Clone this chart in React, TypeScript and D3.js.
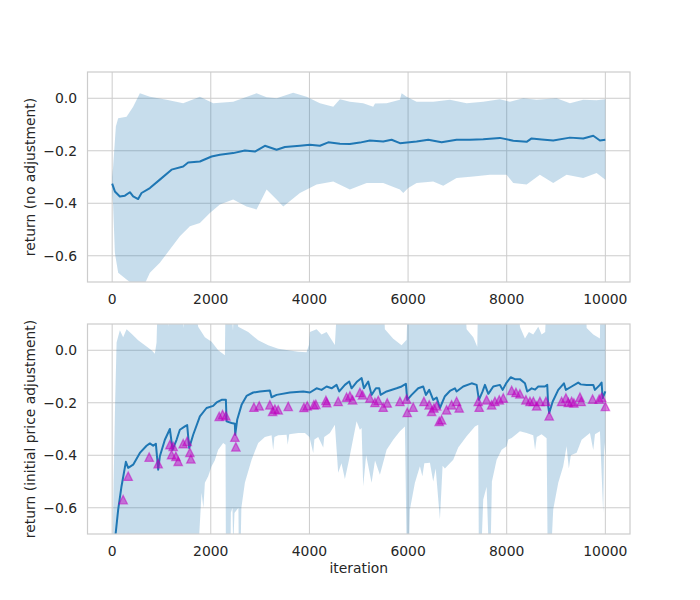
import React from 'react';
import * as d3 from 'd3';

// iteration, value pairs
const xTicks = [0, 2000, 4000, 6000, 8000, 10000];
const yTicks = [-0.6, -0.4, -0.2, 0.0];

const topMean: [number, number][] = [
  [0, -0.325], [55, -0.355], [156, -0.374], [258, -0.371], [359, -0.358], [426, -0.374],
  [527, -0.384], [596, -0.361], [765, -0.342], [967, -0.31], [1204, -0.272], [1440, -0.26],
  [1541, -0.245], [1779, -0.241], [2016, -0.222], [2184, -0.215], [2454, -0.209], [2691, -0.199],
  [2894, -0.203], [3097, -0.181], [3334, -0.196], [3503, -0.186], [3807, -0.181], [4010, -0.177],
  [4213, -0.181], [4381, -0.168], [4618, -0.173], [4820, -0.174], [5023, -0.169], [5226, -0.161],
  [5496, -0.165], [5666, -0.158], [5835, -0.171], [6173, -0.165], [6409, -0.158], [6680, -0.168],
  [6984, -0.158], [7254, -0.158], [7524, -0.156], [7862, -0.151], [8133, -0.162], [8404, -0.166],
  [8505, -0.153], [8708, -0.157], [8943, -0.161], [9282, -0.15], [9552, -0.153], [9755, -0.143],
  [9890, -0.161], [10000, -0.158],
];

const topUpper: [number, number][] = [
  [0, -0.3], [20, -0.26], [75, -0.108], [122, -0.076], [292, -0.07], [426, -0.032], [562, 0.019],
  [765, 0.006], [1103, -0.006], [1440, -0.019], [1779, 0.006], [2049, -0.019], [2454, -0.013],
  [2928, 0.019], [3131, 0.004], [3334, 0.0], [3671, 0.021], [3942, 0.006], [4213, -0.019],
  [4483, -0.032], [4618, -0.004], [4820, -0.013], [5090, -0.019], [5293, -0.032], [5330, -0.02],
  [5565, -0.019], [5835, -0.006], [5869, 0.019], [5970, 0.006], [6173, -0.013], [6510, -0.013],
  [6848, -0.006], [7187, -0.019], [7524, -0.013], [7862, -0.004], [8065, -0.013], [8336, 0.0],
  [8607, -0.006], [9012, 0.0], [9282, -0.019], [9552, -0.006], [9823, -0.008], [10000, -0.004],
];

const topLower: [number, number][] = [
  [0, -0.35], [20, -0.41], [55, -0.589], [122, -0.665], [292, -0.69], [494, -0.72], [629, -0.72],
  [765, -0.665], [967, -0.627], [1170, -0.576], [1373, -0.526], [1576, -0.488], [1779, -0.475],
  [1981, -0.437], [2184, -0.405], [2454, -0.386], [2725, -0.412], [2928, -0.424], [3131, -0.348],
  [3334, -0.386], [3469, -0.412], [3807, -0.361], [4145, -0.329], [4483, -0.317], [4820, -0.348],
  [5159, -0.323], [5496, -0.323], [5835, -0.348], [5902, -0.361], [6003, -0.342], [6173, -0.323],
  [6510, -0.317], [6713, -0.333], [6984, -0.304], [7322, -0.298], [7660, -0.291], [7998, -0.291],
  [8133, -0.323], [8404, -0.329], [8673, -0.291], [8943, -0.323], [9214, -0.291], [9552, -0.304],
  [9823, -0.285], [10000, -0.31],
];

const bottomMean: [number, number][] = [
  [0, -0.95], [40, -0.82], [70, -0.7], [122, -0.607], [190, -0.518], [278, -0.425], [325, -0.448],
  [426, -0.436], [562, -0.391], [697, -0.364], [765, -0.355], [832, -0.364], [886, -0.356],
  [933, -0.455], [967, -0.404], [1069, -0.341], [1170, -0.3], [1225, -0.379], [1306, -0.341],
  [1373, -0.303], [1475, -0.29], [1521, -0.285], [1562, -0.372], [1643, -0.322], [1779, -0.252],
  [1914, -0.22], [2049, -0.212], [2117, -0.199], [2219, -0.189], [2306, -0.189], [2320, -0.271],
  [2421, -0.277], [2488, -0.28], [2495, -0.322], [2535, -0.265], [2624, -0.208], [2725, -0.174],
  [2860, -0.161], [2995, -0.157], [3198, -0.153], [3232, -0.179], [3334, -0.17], [3604, -0.161],
  [3874, -0.157], [4010, -0.161], [4145, -0.145], [4246, -0.151], [4348, -0.138], [4449, -0.145],
  [4550, -0.132], [4604, -0.157], [4719, -0.132], [4807, -0.119], [4855, -0.145], [4969, -0.119],
  [5058, -0.106], [5105, -0.145], [5192, -0.119], [5260, -0.17], [5348, -0.145], [5415, -0.145],
  [5443, -0.17], [5565, -0.157], [5768, -0.145], [5869, -0.138], [5956, -0.128], [5983, -0.189],
  [6072, -0.17], [6206, -0.145], [6307, -0.138], [6362, -0.17], [6429, -0.151], [6510, -0.189],
  [6580, -0.18], [6646, -0.22], [6747, -0.175], [6848, -0.155], [6950, -0.145], [6984, -0.157],
  [7118, -0.138], [7289, -0.126], [7390, -0.132], [7437, -0.189], [7511, -0.157], [7559, -0.132],
  [7627, -0.166], [7728, -0.138], [7863, -0.132], [7918, -0.151], [7998, -0.123], [8080, -0.103],
  [8167, -0.11], [8268, -0.11], [8370, -0.126], [8416, -0.157], [8506, -0.145], [8575, -0.15],
  [8640, -0.138], [8775, -0.138], [8822, -0.132], [8842, -0.214], [8862, -0.239], [8931, -0.196],
  [9045, -0.151], [9160, -0.126], [9200, -0.151], [9300, -0.14], [9450, -0.123], [9500, -0.13],
  [9621, -0.132], [9755, -0.132], [9789, -0.151], [9890, -0.132], [9924, -0.123], [9945, -0.183],
  [10000, -0.157],
];

const bottomUpper: [number, number][] = [
  [0, -0.9], [30, -0.5], [60, -0.2], [90, 0.03], [156, 0.076], [223, 0.05], [292, 0.08],
  [393, 0.063], [527, 0.038], [663, 0.019], [799, 0.0], [866, -0.013], [900, 0.03], [925, 0.2],
  [1100, 0.2], [1150, 0.09], [1180, 0.2], [1400, 0.2], [1450, 0.085], [1500, 0.2], [1650, 0.2],
  [1744, 0.09], [1880, 0.05], [2016, 0.032], [2150, 0.0], [2286, -0.019], [2299, 0.2], [2400, 0.2],
  [2450, 0.075], [2480, 0.2], [2556, 0.09], [2758, 0.07], [2961, 0.038], [3164, 0.019],
  [3367, 0.006], [3569, 0.0], [3772, -0.006], [3942, -0.008], [3990, 0.02], [4010, 0.07],
  [4145, 0.08], [4246, 0.06], [4348, 0.07], [4516, 0.02], [4570, 0.2], [5500, 0.2], [5530, 0.08],
  [5699, 0.044], [5869, 0.019], [5970, 0.04], [5995, 0.2], [7150, 0.2], [7187, 0.08], [7322, 0.05],
  [7403, 0.013], [7420, 0.2], [8240, 0.2], [8268, 0.09], [8370, 0.045], [8450, 0.07], [8538, 0.06],
  [8640, 0.09], [8708, 0.06], [8780, 0.07], [8809, 0.2], [9600, 0.2], [9621, 0.085], [9755, 0.06],
  [9890, 0.045], [9900, 0.2], [10000, 0.2],
];

const bottomLower: [number, number][] = [
  [0, -1.0], [1700, -1.0], [1760, -0.72], [1813, -0.543], [1850, -0.6], [1880, -0.505],
  [1947, -0.48], [2016, -0.442], [2080, -0.42], [2150, -0.379], [2251, -0.353], [2299, -0.36],
  [2310, -1.0], [2390, -1.0], [2407, -0.618], [2440, -0.6], [2455, -0.75], [2480, -0.62],
  [2560, -0.6], [2580, -1.0], [2620, -0.6], [2691, -0.505], [2827, -0.417], [2961, -0.353],
  [3097, -0.33], [3232, -0.324], [3265, -0.38], [3290, -0.33], [3367, -0.324], [3537, -0.322],
  [3560, -0.36], [3590, -0.32], [3772, -0.315], [3908, -0.315], [4000, -0.33], [4077, -0.391],
  [4100, -0.34], [4178, -0.33], [4280, -0.37], [4300, -0.33], [4415, -0.315], [4516, -0.284],
  [4583, -0.467], [4650, -0.43], [4719, -0.49], [4800, -0.42], [4956, -0.27], [5023, -0.303],
  [5058, -0.296], [5090, -0.518], [5150, -0.4], [5260, -0.505], [5330, -0.42], [5429, -0.474],
  [5565, -0.379], [5699, -0.341], [5835, -0.309], [5936, -0.29], [5990, -1.0], [6037, -0.607],
  [6139, -0.505], [6240, -0.442], [6290, -0.48], [6330, -0.43], [6443, -0.429], [6510, -0.5],
  [6560, -0.45], [6646, -0.644], [6700, -0.44], [6747, -0.45], [6916, -0.417], [7017, -0.37],
  [7187, -0.328], [7356, -0.29], [7423, -0.284], [7440, -1.0], [7524, -0.569], [7593, -0.52],
  [7660, -0.9], [7700, -0.5], [7796, -0.417], [7897, -0.379], [7998, -0.366], [8032, -0.34],
  [8100, -0.334], [8268, -0.309], [8404, -0.315], [8538, -0.324], [8575, -0.38], [8610, -0.33],
  [8708, -0.32], [8809, -0.335], [8842, -1.0], [8943, -0.607], [9045, -0.505], [9146, -0.442],
  [9214, -0.366], [9260, -0.45], [9300, -0.4], [9418, -0.39], [9519, -0.341], [9688, -0.315],
  [9755, -0.38], [9790, -0.32], [9890, -0.309], [9957, -0.62], [9975, -0.35], [10000, -0.4],
];

const adjustments: [number, number][] = [
  [223, -0.569], [325, -0.48], [751, -0.407], [933, -0.432], [1170, -0.36], [1204, -0.398],
  [1237, -0.366], [1292, -0.404], [1339, -0.423], [1440, -0.356], [1521, -0.347], [1576, -0.389],
  [1596, -0.414], [2170, -0.252], [2239, -0.245], [2306, -0.25], [2488, -0.331], [2508, -0.368],
  [2874, -0.217], [2981, -0.212], [3198, -0.208], [3253, -0.233], [3300, -0.224], [3367, -0.227],
  [3570, -0.214], [3888, -0.218], [3955, -0.212], [4091, -0.208], [4130, -0.206], [4334, -0.191],
  [4350, -0.2], [4583, -0.195], [4753, -0.179], [4820, -0.174], [4875, -0.189], [5023, -0.161],
  [5077, -0.17], [5226, -0.182], [5328, -0.199], [5395, -0.191], [5496, -0.217], [5577, -0.201],
  [5835, -0.195], [5970, -0.186], [5983, -0.237], [6104, -0.217], [6321, -0.195], [6429, -0.208],
  [6477, -0.233], [6524, -0.22], [6578, -0.212], [6632, -0.271], [6680, -0.265], [6781, -0.227],
  [6883, -0.208], [6984, -0.195], [7037, -0.22], [7423, -0.195], [7443, -0.217], [7593, -0.189],
  [7694, -0.208], [7761, -0.195], [7850, -0.189], [7930, -0.182], [8100, -0.153], [8187, -0.161],
  [8268, -0.166], [8390, -0.189], [8471, -0.195], [8540, -0.195], [8607, -0.212], [8673, -0.195],
  [8795, -0.195], [8862, -0.25], [9113, -0.195], [9200, -0.182], [9248, -0.199], [9316, -0.195],
  [9362, -0.201], [9485, -0.179], [9510, -0.195], [9742, -0.186], [9876, -0.186], [9924, -0.179],
  [10000, -0.214],
];

const BLUE = '#1f77b4';
const GRID = '#cccccc';
const TEXT = '#262626';
const FONT = '"DejaVu Sans", sans-serif';

const left = 87.5;
const right = 630;
const x = d3.scaleLinear().domain([-500, 10500]).range([left, right]);
const fmt = d3.format('.1f');

interface PanelProps {
  id: string;
  top: number;
  bottom: number;
  mean: [number, number][];
  upper: [number, number][];
  lower: [number, number][];
  markers?: [number, number][];
  ylabel: string;
}

function Panel({ id, top, bottom, mean, upper, lower, markers, ylabel }: PanelProps) {
  const y = d3.scaleLinear().domain([-0.7, 0.1]).range([bottom, top]);
  const line = d3
    .line<[number, number]>()
    .x((d) => x(d[0]))
    .y((d) => y(d[1]));
  // band polygon: upper edge forward, lower edge back
  const band = line([...upper, ...lower.slice().reverse()]) + 'Z';
  const h = 4.2;
  const tri = `M0,${-h}L${-h},${h}L${h},${h}Z`;

  return (
    <g>
      <defs>
        <clipPath id={id}>
          <rect x={left} y={top} width={right - left} height={bottom - top} />
        </clipPath>
      </defs>
      {xTicks.map((t) => (
        <line key={'gx' + t} x1={x(t)} x2={x(t)} y1={top} y2={bottom} stroke={GRID} strokeWidth={1} />
      ))}
      {yTicks.map((t) => (
        <line key={'gy' + t} x1={left} x2={right} y1={y(t)} y2={y(t)} stroke={GRID} strokeWidth={1} />
      ))}
      <g clipPath={`url(#${id})`}>
        <path d={band} fill={BLUE} fillOpacity={0.25} stroke="none" />
        <path d={line(mean) ?? ''} fill="none" stroke={BLUE} strokeWidth={2} strokeLinejoin="round" />
        {markers?.map((d, i) => (
          <path
            key={i}
            d={tri}
            transform={`translate(${x(d[0])},${y(d[1])})`}
            fill="#bf00bf"
            fillOpacity={0.5}
            stroke="#bf00bf"
            strokeOpacity={0.5}
            strokeWidth={1.3}
          />
        ))}
      </g>
      <rect x={left} y={top} width={right - left} height={bottom - top} fill="none" stroke={GRID} strokeWidth={1.2} />
      {xTicks.map((t) => (
        <text key={'tx' + t} x={x(t)} y={bottom + 21.5} textAnchor="middle" fontSize={13.9} fill={TEXT} fontFamily={FONT}>
          {t}
        </text>
      ))}
      {yTicks.map((t) => (
        <text key={'ty' + t} x={left - 10.5} y={y(t)} dy="0.36em" textAnchor="end" fontSize={13.9} fill={TEXT} fontFamily={FONT}>
          {fmt(t)}
        </text>
      ))}
      <text
        transform={`translate(30,${(top + bottom) / 2}) rotate(-90)`}
        textAnchor="middle"
        dy="0.36em"
        fontSize={13.9}
        fill={TEXT}
        fontFamily={FONT}
      >
        {ylabel}
      </text>
    </g>
  );
}

export default function App() {
  return (
    <div style={{ position: 'fixed', left: 0, top: 0, width: 700, height: 600, background: '#fff' }}>
      <svg width={700} height={600}>
        <rect width={700} height={600} fill="#ffffff" />
        <Panel id="clipTop" top={72} bottom={282} mean={topMean} upper={topUpper} lower={topLower} ylabel="return (no adjustment)" />
        <Panel
          id="clipBottom"
          top={324}
          bottom={534}
          mean={bottomMean}
          upper={bottomUpper}
          lower={bottomLower}
          markers={adjustments}
          ylabel="return (initial price adjustment)"
        />
        <text x={(left + right) / 2} y={573} textAnchor="middle" fontSize={13.9} fill={TEXT} fontFamily={FONT}>
          iteration
        </text>
      </svg>
    </div>
  );
}
